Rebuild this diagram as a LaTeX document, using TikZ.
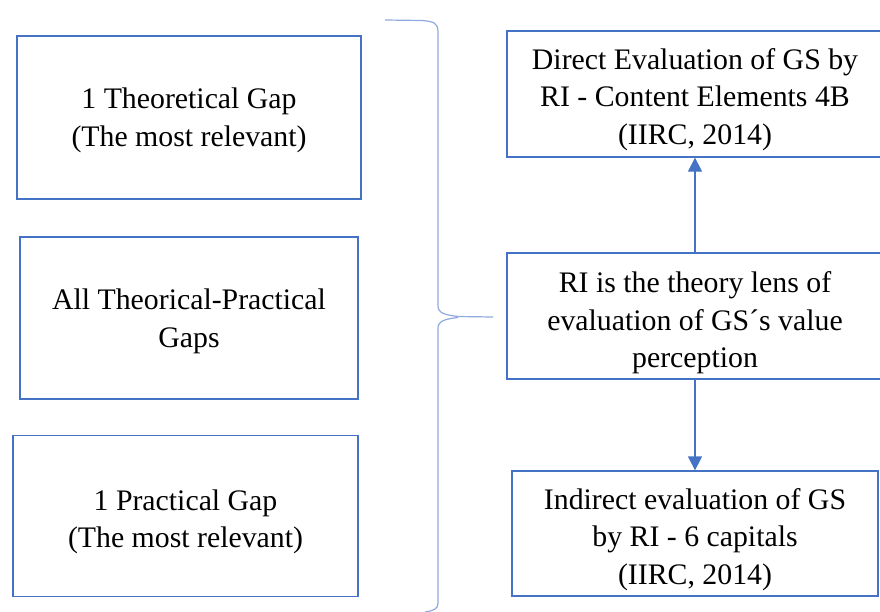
\documentclass[tikz,border=0pt]{standalone}
\usepackage{fontspec}
\setmainfont{Liberation Serif}
\usetikzlibrary{arrows.meta}
\definecolor{bord}{HTML}{4472C4}
\definecolor{brace}{HTML}{8FAADC}
\begin{document}
\begin{tikzpicture}[x=1pt,y=-1pt,
  box/.style={draw=bord, line width=1.3pt, inner sep=0pt},
  txt/.style={align=center, font=\fontsize{29.8}{37.5}\selectfont, inner sep=0pt},
  conn/.style={draw=bord, line width=1.3pt, -{Triangle[length=14pt,width=14pt]}}]
\useasboundingbox (0,0) rectangle (880,611);
\clip (0,0) rectangle (880,611);
\fill[white] (0,0) rectangle (880,611);
\node[box, minimum width=344pt, minimum height=163pt] (b1) at (189,117.5) {};
\node[box, minimum width=338pt, minimum height=162pt] (b2) at (189,318) {};
\node[box, minimum width=345pt, minimum height=161pt] (b3) at (185.5,516) {};
\node[box, minimum width=376pt, minimum height=126pt] (rt) at (695,94) {};
\node[box, minimum width=376pt, minimum height=126pt] (rm) at (695,316) {};
\node[box, minimum width=366pt, minimum height=125pt] (rb) at (695,533.5) {};
\node[txt] (b1t) at ([yshift=-3pt]b1.center) {1 Theoretical Gap\\(The most relevant)};
\node[txt] (b2t) at ([yshift=-3.5pt]b2.center) {All Theorical-Practical\\Gaps};
\node[txt] (b3t) at ([yshift=-6pt]b3.center) {1 Practical Gap\\(The most relevant)};
\node[txt] (rtt) at ([yshift=-5.5pt]rt.center) {Direct Evaluation of GS by\\RI - Content Elements 4B\\(IIRC, 2014)};
\node[txt] (rmt) at ([yshift=-7pt]rm.center) {RI is the theory lens of\\evaluation of GS\textasciiacute s value\\perception};
\node[txt] (rbt) at ([yshift=-6pt]rb.center) {Indirect evaluation of GS\\by RI - 6 capitals\\(IIRC, 2014)};
\draw[conn] (rm.north) -- (rt.south);
\draw[conn] (rm.south) -- (rb.north);
\coordinate (bt) at (385,20);
\coordinate (btip) at (493,317);
\coordinate (bb) at (425,612);
\draw[brace, line width=1.2pt]
  (bt) -- (422,20.5) .. controls (434,21.5) and (438,23) .. (438,32)
  -- (438,306) .. controls (438,313) and (445,315) .. (458,316.5) -- (btip);
\draw[brace, line width=1.2pt]
  (458,317.5) .. controls (445,319) and (438,321) .. (438,328)
  -- (438,603) .. controls (438,609) and (434,610.5) .. (bb);
\end{tikzpicture}
\end{document}
